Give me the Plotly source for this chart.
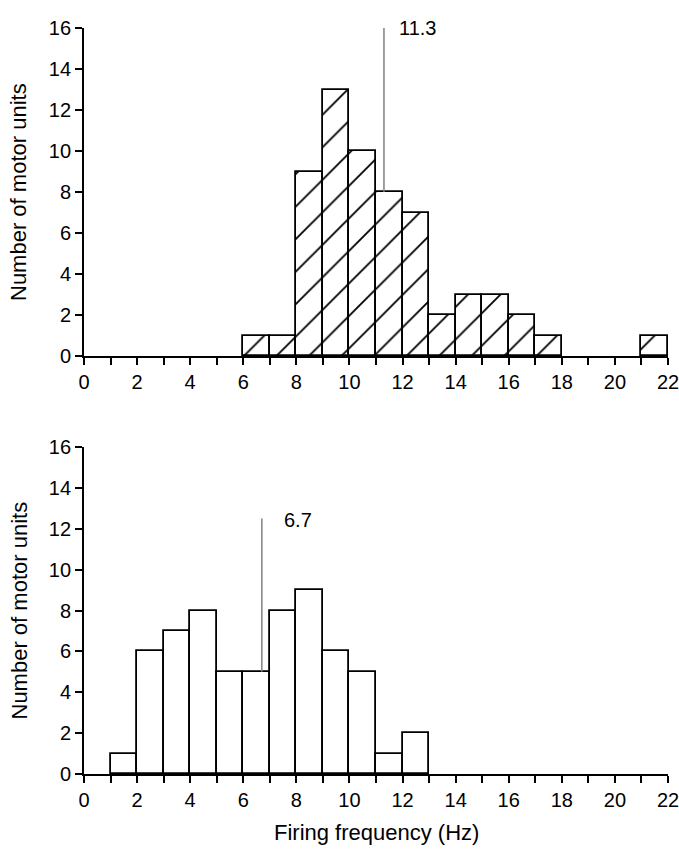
import plotly.graph_objects as go

# ---- data ----
bin_left = list(range(0, 22))
counts_3 = [0, 0, 0, 0, 0, 0, 1, 1, 9, 13, 10, 8, 7, 2, 3, 3, 2, 1, 0, 0, 0, 1]
counts_5 = [0, 1, 6, 7, 8, 5, 5, 8, 9, 6, 5, 1, 2, 0, 0, 0, 0, 0, 0, 0, 0, 0]
mean_3 = 11.3
mean_5 = 6.7
mean_top_3 = 16.0
mean_top_5 = 12.5
mean_label_3 = "11.3"
mean_label_5 = "6.7"
title_3 = "Dorsal external<br>intercostal (3)"
title_5 = "Dorsal external<br>intercostal (5)"
x_ticks = list(range(0, 23))
x_ticktext = [str(v) if v % 2 == 0 else "" for v in x_ticks]
y_ticks = list(range(0, 17, 2))
y_label = "Number of motor units"
x_label = "Firing frequency (Hz)"

FONT = "Liberation Sans, Arial, Helvetica, sans-serif"
W, H = 679, 853

centers = [b + 0.5 for b in bin_left]

fig = go.Figure()

# top histogram (hatched)
fig.add_trace(go.Bar(
    x=[c for c, v in zip(centers, counts_3) if v > 0],
    y=[v for v in counts_3 if v > 0],
    width=1, xaxis="x", yaxis="y",
    marker=dict(color="white", line=dict(color="black", width=1.8),
                pattern=dict(shape="/", fgcolor="black", bgcolor="white",
                             fgopacity=1, size=23, solidity=0.08,
                             fillmode="replace")),
    showlegend=False,
))
# bottom histogram (plain)
fig.add_trace(go.Bar(
    x=[c for c, v in zip(centers, counts_5) if v > 0],
    y=[v for v in counts_5 if v > 0],
    width=1, xaxis="x2", yaxis="y2",
    marker=dict(color="white", line=dict(color="black", width=1.8)),
    showlegend=False,
))

# mean lines
idx3 = int(mean_3)
idx5 = int(mean_5)
fig.add_trace(go.Scatter(x=[mean_3, mean_3], y=[counts_3[idx3], mean_top_3],
                         mode="lines", line=dict(color="#808080", width=1.5),
                         xaxis="x", yaxis="y", showlegend=False, cliponaxis=False))
fig.add_trace(go.Scatter(x=[mean_5, mean_5], y=[counts_5[idx5], mean_top_5],
                         mode="lines", line=dict(color="#808080", width=1.5),
                         xaxis="x2", yaxis="y2", showlegend=False, cliponaxis=False))

xdom = [84 / W, 668 / W]
ydom_top = [1 - 356 / H, 1 - 28 / H]
ydom_bot = [1 - 774 / H, 1 - 447 / H]

axis_common = dict(
    showline=True, linecolor="black", linewidth=1.8,
    ticks="outside", ticklen=7, tickwidth=1.8, tickcolor="black",
    showgrid=False, zeroline=False, automargin=False,
    ticklabeloverflow="allow",
    tickfont=dict(family=FONT, size=20, color="black"),
)

fig.update_layout(
    width=W, height=H,
    margin=dict(l=0, r=0, t=0, b=0),
    paper_bgcolor="white", plot_bgcolor="white",
    bargap=0,
    xaxis=dict(domain=xdom, range=[0, 22], anchor="y", tickmode="array",
               tickvals=x_ticks, ticktext=x_ticktext, **axis_common),
    yaxis=dict(domain=ydom_top, range=[0, 16], anchor="x", tickmode="array",
               tickvals=y_ticks, **axis_common),
    xaxis2=dict(domain=xdom, range=[0, 22], anchor="y2", tickmode="array",
                tickvals=x_ticks, ticktext=x_ticktext, **axis_common),
    yaxis2=dict(domain=ydom_bot, range=[0, 16], anchor="x2", tickmode="array",
                tickvals=y_ticks, **axis_common),
    font=dict(family=FONT, color="black"),
)

ann_font = dict(family=FONT, size=22, color="black")
fig.add_annotation(x=1.1, y=16.8, xref="x", yref="y", text=title_3, showarrow=False,
                   xanchor="left", yanchor="top", align="left", font=ann_font)
fig.add_annotation(x=1.1, y=16.8, xref="x2", yref="y2", text=title_5, showarrow=False,
                   xanchor="left", yanchor="top", align="left", font=ann_font)
fig.add_annotation(x=mean_3 + 0.5, y=mean_top_3, xref="x", yref="y", text=mean_label_3,
                   showarrow=False, xanchor="left", yanchor="middle", font=dict(family=FONT, size=20, color="black"))
fig.add_annotation(x=mean_5 + 0.75, y=mean_top_5 - 0.05, xref="x2", yref="y2", text=mean_label_5,
                   showarrow=False, xanchor="left", yanchor="middle", font=dict(family=FONT, size=20, color="black"))

# axis titles
for yc in [(ydom_top[0] + ydom_top[1]) / 2, (ydom_bot[0] + ydom_bot[1]) / 2]:
    fig.add_annotation(x=19 / W, y=yc, xref="paper", yref="paper", text=y_label,
                       textangle=-90, showarrow=False, xanchor="center", yanchor="middle",
                       font=ann_font)
fig.add_annotation(x=376 / W, y=1 - 832 / H, xref="paper", yref="paper", text=x_label,
                   showarrow=False, xanchor="center", yanchor="middle", font=ann_font)

fig.write_html("out.html")
